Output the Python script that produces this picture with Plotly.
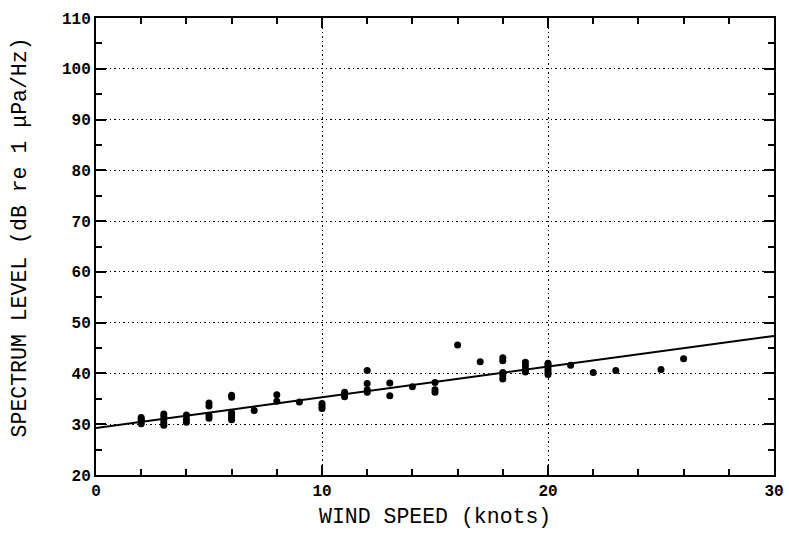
import numpy as np
import plotly.graph_objects as go

# wind speed (knots) and spectrum level (dB re 1 uPa/Hz) observations
wind_speed = [2, 2, 2, 2,
              3, 3, 3, 3, 3,
              4, 4, 4,
              5, 5, 5, 5,
              6, 6, 6, 6, 6, 6,
              7,
              8, 8,
              9,
              10, 10, 10,
              11, 11, 11,
              12, 12, 12, 12,
              13, 13,
              14,
              15, 15, 15,
              16,
              17,
              18, 18, 18, 18, 18,
              19, 19, 19, 19,
              20, 20, 20, 20, 20, 20,
              21, 22, 23, 25, 26]
spectrum_level = [30.1, 30.6, 31.0, 31.3,
                  29.8, 30.3, 30.9, 31.5, 32.0,
                  30.4, 31.0, 31.8,
                  31.2, 31.7, 33.6, 34.2,
                  30.9, 31.3, 31.8, 32.3, 35.3, 35.7,
                  32.7,
                  34.5, 35.8,
                  34.4,
                  33.1, 33.6, 34.1,
                  35.4, 35.8, 36.3,
                  36.3, 36.8, 38.0, 40.6,
                  35.6, 38.1,
                  37.4,
                  36.3, 36.8, 38.2,
                  45.6,
                  42.3,
                  38.9, 39.6, 40.2, 42.5, 43.1,
                  40.3, 40.8, 41.5, 42.2,
                  39.8, 40.3, 40.8, 41.3, 41.7, 42.0,
                  41.6, 40.2, 40.6, 40.8, 42.9]

# regression line parameters
fit_intercept = 29.25
fit_slope = 0.605
fit_x = [0, 30]

x_ticks = [0, 10, 20, 30]
y_ticks = [20, 30, 40, 50, 60, 70, 80, 90, 100, 110]

x_title = "WIND SPEED (knots)"
y_title = "SPECTRUM LEVEL (dB re 1 μPa/Hz)"

fit_y = [fit_intercept + fit_slope * v for v in fit_x]

fig = go.Figure()
fig.add_trace(go.Scatter(x=fit_x, y=fit_y, mode="lines",
                         line=dict(color="black", width=2), hoverinfo="skip"))
fig.add_trace(go.Scatter(x=wind_speed, y=spectrum_level, mode="markers",
                         marker=dict(color="black", size=7, line=dict(width=0))))

tick_font = dict(family="Liberation Mono", size=16, color="black", weight="bold")
title_font = dict(family="Liberation Mono", size=21.5, color="black")

grid_dash = "1.5px,3px"

fig.update_layout(
    width=789, height=549,
    margin=dict(l=96, r=15, t=18, b=74, autoexpand=False),
    paper_bgcolor="white", plot_bgcolor="white",
    showlegend=False,
    xaxis=dict(range=[0, 30], tickvals=x_ticks, ticks="inside", ticklen=10,
               tickwidth=1.5, tickcolor="black", automargin=False,
               ticklabeloverflow="allow",
               showline=True, linecolor="black", linewidth=2, mirror="ticks",
               showgrid=True, gridcolor="black", griddash=grid_dash, gridwidth=1.2,
               zeroline=False, tickfont=tick_font,
               minor=dict(dtick=2, ticks="inside", ticklen=6, tickwidth=1.5,
                          tickcolor="black", showgrid=False)),
    yaxis=dict(range=[20, 110], tickvals=y_ticks, ticks="inside", ticklen=10,
               tickwidth=1.5, tickcolor="black", automargin=False,
               ticklabeloverflow="allow",
               showline=True, linecolor="black", linewidth=2, mirror="ticks",
               showgrid=True, gridcolor="black", griddash=grid_dash, gridwidth=1.2,
               zeroline=False, tickfont=tick_font,
               minor=dict(dtick=5, ticks="inside", ticklen=6, tickwidth=1.5,
                          tickcolor="black", showgrid=False)),
    annotations=[
        dict(text=x_title, xref="paper", yref="paper", x=0.50, y=-0.092,
             xanchor="center", yanchor="middle", showarrow=False, font=title_font),
        dict(text=y_title, xref="paper", yref="paper", x=-0.112, y=0.52,
             xanchor="center", yanchor="middle", showarrow=False, font=title_font,
             textangle=-90),
    ],
)

fig.write_html("out.html",
               config={"displayModeBar": False},
               post_script="document.body.style.margin='0';"
                           "document.body.style.overflow='hidden';")
